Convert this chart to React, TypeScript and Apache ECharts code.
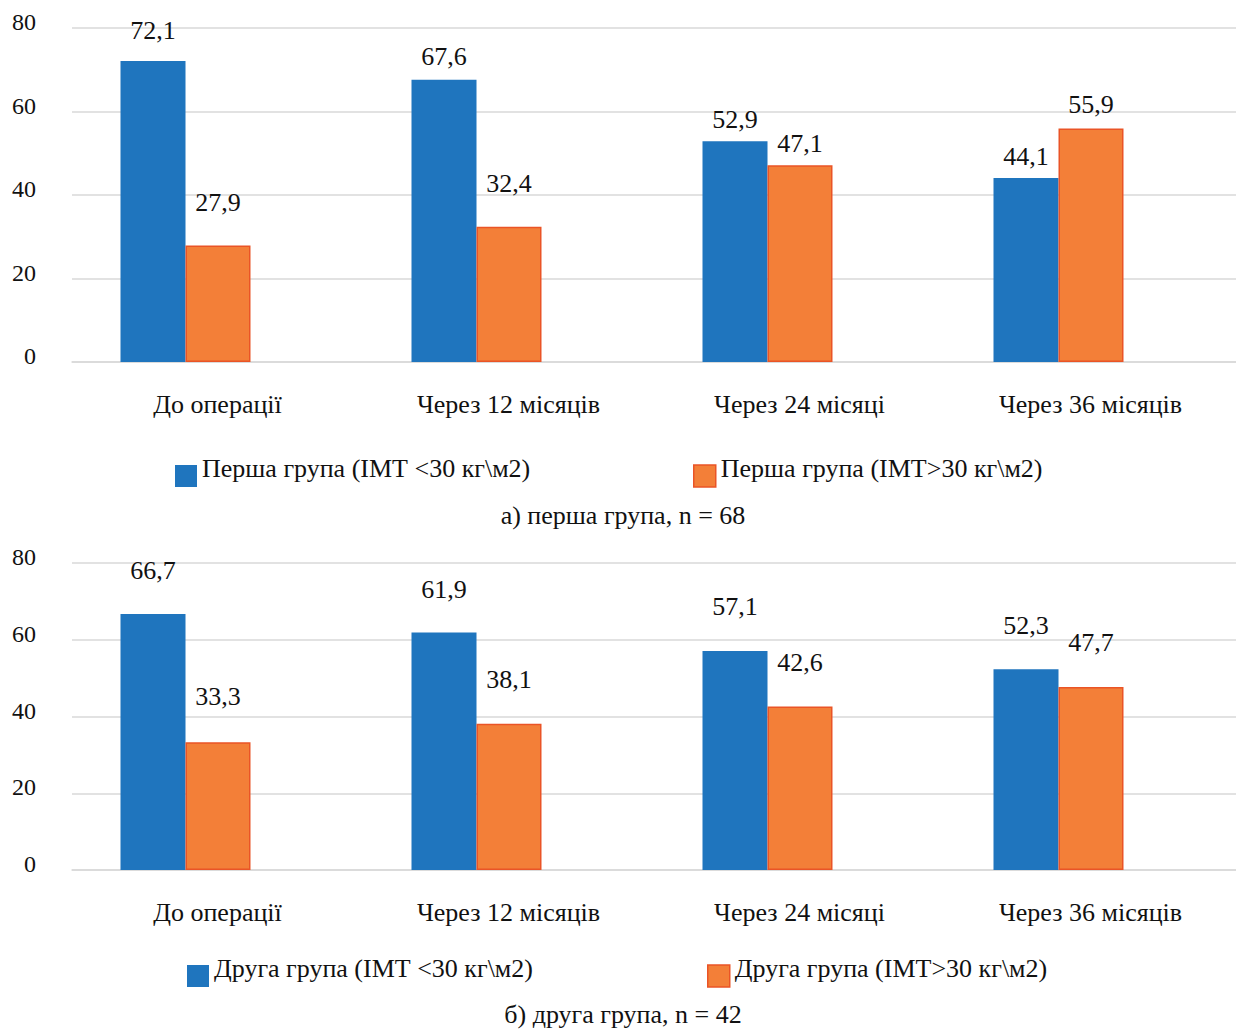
import React, { useEffect, useRef } from "react";
import * as echarts from "echarts";

// Periods of observation
const categories = ["До операції", "Через 12 місяців", "Через 24 місяці", "Через 36 місяців"];

// Share of patients, %, first group (n = 68)
const firstBelow30 = [72.1, 67.6, 52.9, 44.1];
const firstAbove30 = [27.9, 32.4, 47.1, 55.9];

// Share of patients, %, second group (n = 42)
const secondBelow30 = [66.7, 61.9, 57.1, 52.3];
const secondAbove30 = [33.3, 38.1, 42.6, 47.7];

const seriesNames = {
  firstBelow: "Перша група (ІМТ <30 кг\\м2)",
  firstAbove: "Перша група (ІМТ>30 кг\\м2)",
  secondBelow: "Друга група (ІМТ <30 кг\\м2)",
  secondAbove: "Друга група (ІМТ>30 кг\\м2)",
};

const captions = ["а) перша група, n = 68", "б) друга група, n = 42"];

const FONT = "Liberation Serif";
const BLUE = "#1F75BE";
const ORANGE = "#F37F38";
const ORANGE_EDGE = "#EA5426";
const GRID_COLOR = "#D9D9D9";
const TEXT = "#111111";

const fmt = (p: any) => Number(p.value).toFixed(1).replace(".", ",");

function barSeries(
  name: string,
  values: number[],
  axisIndex: number,
  color: string,
  border: string | null,
  gaps: number[]
) {
  return {
    type: "bar",
    name,
    xAxisIndex: axisIndex,
    yAxisIndex: axisIndex,
    barWidth: 65,
    barGap: "0%",
    itemStyle: border
      ? { color, borderColor: border, borderWidth: 1.5 }
      : { color },
    data: values.map((v, i) => ({
      value: v,
      label: { distance: gaps[i] },
    })),
    label: {
      show: true,
      position: "top",
      formatter: fmt,
      fontFamily: FONT,
      fontSize: 26,
      color: TEXT,
    },
  };
}

function buildOption() {
  const panels = [
    { top: 28, height: 334 },
    { top: 563, height: 307 },
  ];

  const grid: any[] = [];
  const xAxis: any[] = [];
  const yAxis: any[] = [];
  panels.forEach((p) => {
    // axis grid: gridlines and labels
    grid.push({ left: 72, right: 0, top: p.top, height: p.height });
    // bar grid: same scale, slightly shifted to the left
    grid.push({ left: 40, right: 32, top: p.top, height: p.height });
  });

  grid.forEach((_, gi) => {
    const isAxisGrid = gi % 2 === 0;
    xAxis.push({
      type: "category",
      gridIndex: gi,
      data: categories,
      show: isAxisGrid,
      axisTick: { show: false },
      axisLine: { show: true, lineStyle: { color: GRID_COLOR, width: 1.5 } },
      axisLabel: {
        fontFamily: FONT,
        fontSize: 26,
        color: TEXT,
        margin: 29,
      },
    });
    yAxis.push({
      type: "value",
      gridIndex: gi,
      min: 0,
      max: 80,
      interval: 20,
      show: isAxisGrid,
      axisLine: { show: false },
      axisTick: { show: false },
      splitLine: { show: isAxisGrid, lineStyle: { color: GRID_COLOR, width: 1.5 } },
      axisLabel: {
        fontFamily: FONT,
        fontSize: 24,
        color: TEXT,
        margin: 36,
        verticalAlign: "bottom",
        lineHeight: 12,
      },
    });
  });

  const series = [
    barSeries(seriesNames.firstBelow, firstBelow30, 1, BLUE, null, [17, 10, 9, 8]),
    barSeries(seriesNames.firstAbove, firstAbove30, 1, ORANGE, ORANGE_EDGE, [30, 30, 9, 11]),
    barSeries(seriesNames.secondBelow, secondBelow30, 3, BLUE, null, [31, 30, 31, 31]),
    barSeries(seriesNames.secondAbove, secondAbove30, 3, ORANGE, ORANGE_EDGE, [33, 31, 31, 31]),
  ];

  const legendBase = {
    icon: "rect",
    itemWidth: 22,
    itemHeight: 22,
    itemGap: 0,
    padding: 0,
    formatter: "{t|{name}}",
    textStyle: {
      fontFamily: FONT,
      fontSize: 26,
      color: TEXT,
      rich: {
        t: {
          fontFamily: FONT,
          fontSize: 26,
          color: TEXT,
          padding: [0, 0, 16, 0],
        },
      },
    },
  };
  const legend = [
    { ...legendBase, data: [seriesNames.firstBelow], left: 175, top: 455 },
    {
      ...legendBase,
      data: [seriesNames.firstAbove],
      left: 693,
      top: 455,
      itemStyle: { borderColor: ORANGE_EDGE, borderWidth: 1.5 },
    },
    { ...legendBase, data: [seriesNames.secondBelow], left: 187, top: 955 },
    {
      ...legendBase,
      data: [seriesNames.secondAbove],
      left: 707,
      top: 955,
      itemStyle: { borderColor: ORANGE_EDGE, borderWidth: 1.5 },
    },
  ];

  const graphic = [
    { y: 515, text: captions[0] },
    { y: 1014, text: captions[1] },
  ].map((c) => ({
    type: "text",
    x: 623,
    y: c.y,
    style: {
      text: c.text,
      fontFamily: FONT,
      fontSize: 26,
      fill: TEXT,
      align: "center",
      verticalAlign: "middle",
    },
  }));

  return {
    animation: false,
    backgroundColor: "#ffffff",
    grid,
    xAxis,
    yAxis,
    series,
    legend,
    graphic,
  };
}

export default function App() {
  const ref = useRef<HTMLDivElement>(null);

  useEffect(() => {
    if (!ref.current) return;
    const chart = echarts.init(ref.current, null, { renderer: "svg" });
    chart.setOption(buildOption() as any);
    return () => chart.dispose();
  }, []);

  return (
    <div
      ref={ref}
      style={{ position: "fixed", left: 0, top: 0, width: 1236, height: 1030, background: "#fff" }}
    />
  );
}
